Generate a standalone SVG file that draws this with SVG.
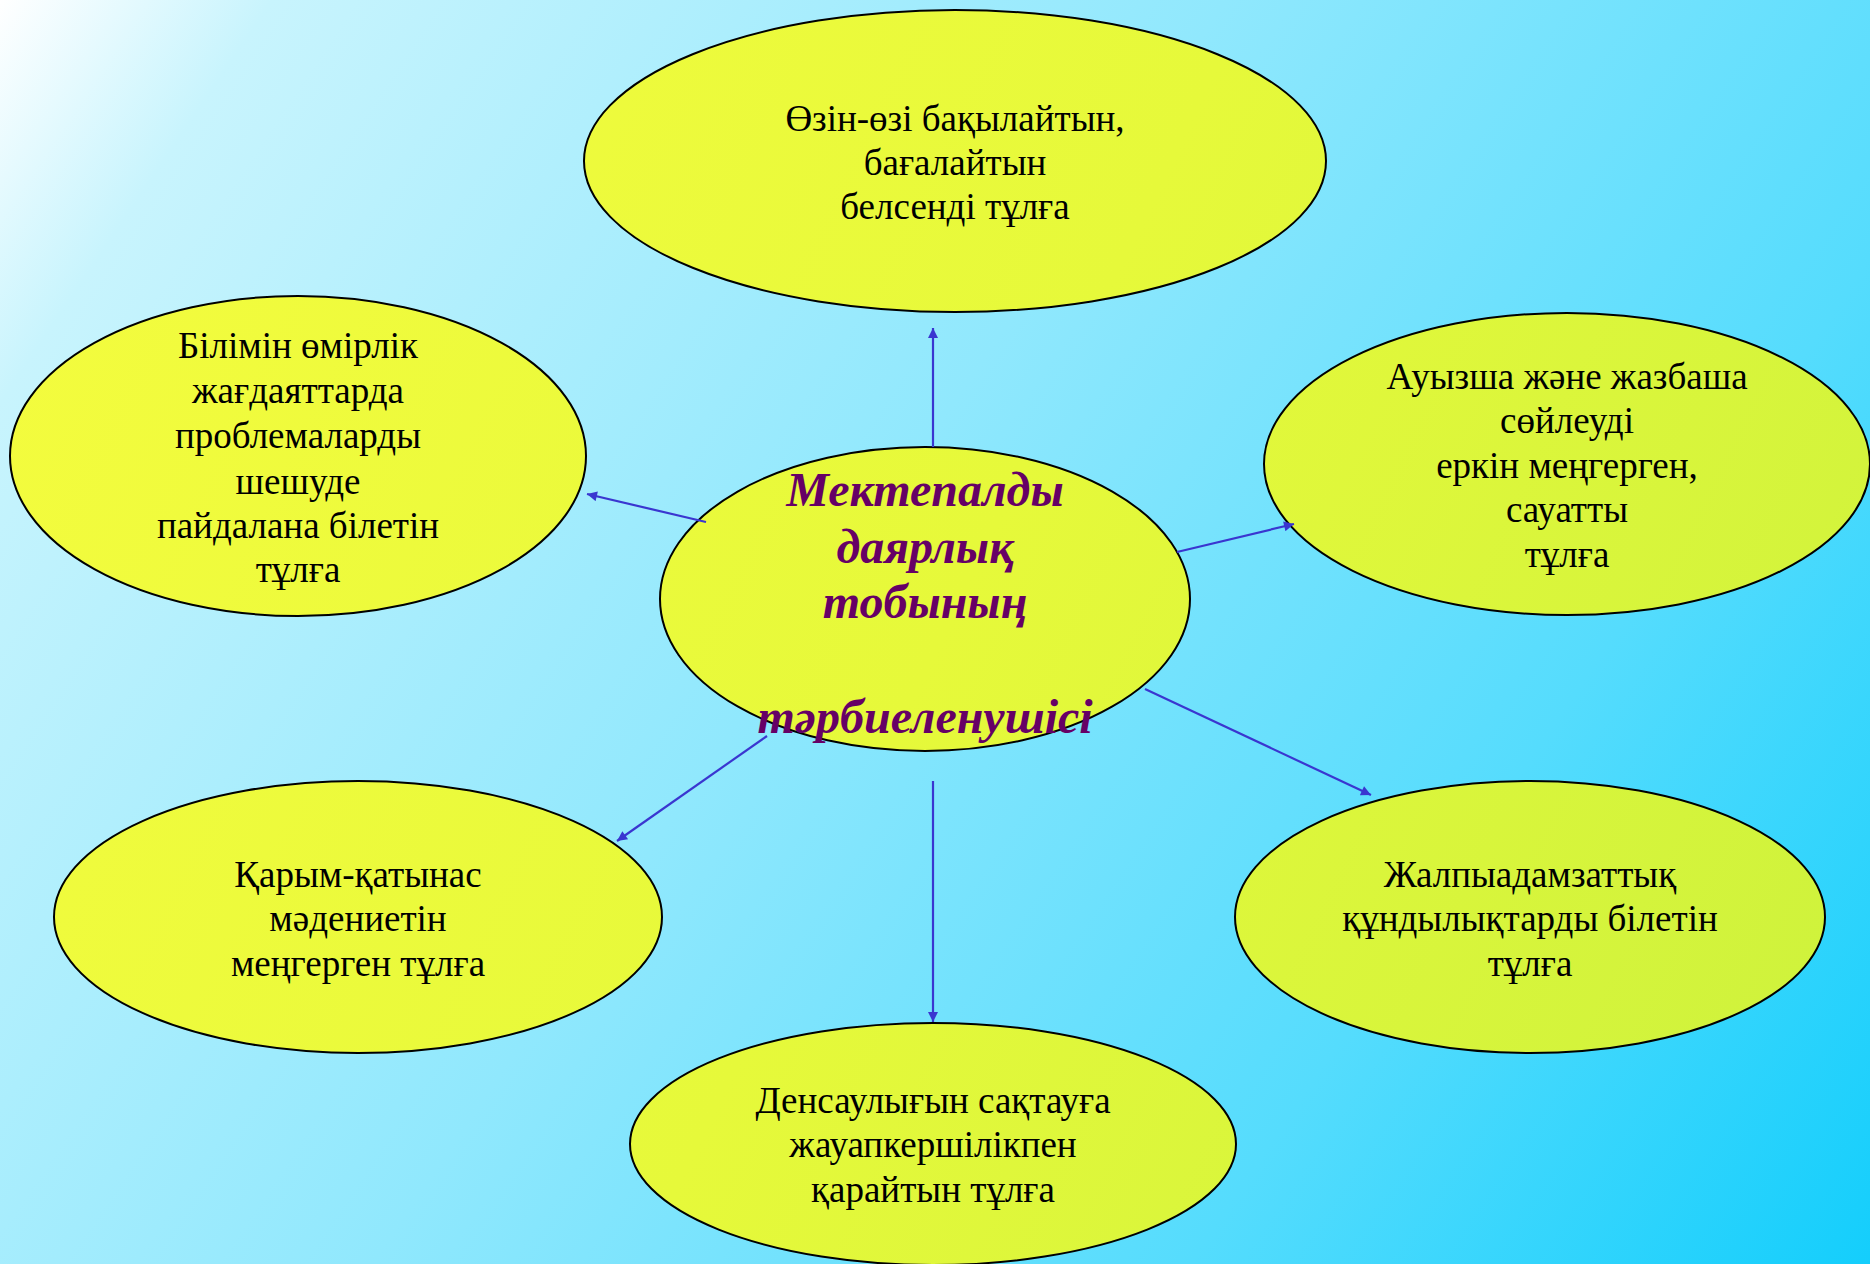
<svg xmlns="http://www.w3.org/2000/svg" width="1870" height="1264" viewBox="0 0 1870 1264">
<defs>
<linearGradient id="bg" x1="0" y1="0" x2="1870" y2="1264" gradientUnits="userSpaceOnUse">
<stop offset="0" stop-color="#ffffff"/>
<stop offset="0.1" stop-color="#c8f4fd"/>
<stop offset="0.45" stop-color="#90e8fd"/>
<stop offset="0.75" stop-color="#55dcfd"/>
<stop offset="1" stop-color="#14cefc"/>
</linearGradient>
<linearGradient id="yel" x1="0" y1="200" x2="1870" y2="1100" gradientUnits="userSpaceOnUse">
<stop offset="0" stop-color="#f4fc3e"/>
<stop offset="0.5" stop-color="#e6f93a"/>
<stop offset="1" stop-color="#cdf23c"/>
</linearGradient>
<marker id="ah" viewBox="0 0 10 10" refX="10" refY="5" markerWidth="13" markerHeight="10" markerUnits="userSpaceOnUse" orient="auto">
<path d="M0,0 L10,5 L0,10 z" fill="#3a36d0"/>
</marker>
<style>
.node ellipse{fill:url(#yel);stroke:#000;stroke-width:2}
.t{font-family:"Liberation Serif","Times New Roman",serif;font-size:37px;fill:#000;text-anchor:middle}
.c{font-family:"Liberation Serif","Times New Roman",serif;font-size:48px;font-weight:bold;font-style:italic;fill:#660066;text-anchor:middle}
.conn line{stroke:#3a36d0;stroke-width:2.2;marker-end:url(#ah)}
</style>
</defs>
<rect x="0" y="0" width="1870" height="1264" fill="url(#bg)"/>
<g id="n-top" class="node">
<ellipse cx="955" cy="161" rx="371" ry="151"/>
<text class="t" x="955" y="131">Өзін-өзі бақылайтын,</text>
<text class="t" x="955" y="175">бағалайтын</text>
<text class="t" x="955" y="219">белсенді тұлға</text>
</g>
<g id="n-left" class="node">
<ellipse cx="298" cy="456" rx="288" ry="160"/>
<text class="t" x="298" y="358">Білімін өмірлік</text>
<text class="t" x="298" y="403">жағдаяттарда</text>
<text class="t" x="298" y="448">проблемаларды</text>
<text class="t" x="298" y="494">шешуде</text>
<text class="t" x="298" y="538">пайдалана білетін</text>
<text class="t" x="298" y="582">тұлға</text>
</g>
<g id="n-right" class="node">
<ellipse cx="1567" cy="464" rx="303" ry="151"/>
<text class="t" x="1567" y="389">Ауызша және жазбаша</text>
<text class="t" x="1567" y="433">сөйлеуді</text>
<text class="t" x="1567" y="478">еркін меңгерген,</text>
<text class="t" x="1567" y="522">сауатты</text>
<text class="t" x="1567" y="567">тұлға</text>
</g>
<g id="n-bl" class="node">
<ellipse cx="358" cy="917" rx="304" ry="136"/>
<text class="t" x="358" y="887">Қарым-қатынас</text>
<text class="t" x="358" y="931">мәдениетін</text>
<text class="t" x="358" y="976">меңгерген тұлға</text>
</g>
<g id="n-br" class="node">
<ellipse cx="1530" cy="917" rx="295" ry="136"/>
<text class="t" x="1530" y="887">Жалпыадамзаттық</text>
<text class="t" x="1530" y="931">құндылықтарды білетін</text>
<text class="t" x="1530" y="976">тұлға</text>
</g>
<g id="n-bottom" class="node">
<ellipse cx="933" cy="1144" rx="303" ry="121"/>
<text class="t" x="933" y="1113">Денсаулығын сақтауға</text>
<text class="t" x="933" y="1157">жауапкершілікпен</text>
<text class="t" x="933" y="1202">қарайтын тұлға</text>
</g>
<g id="n-center" class="node">
<ellipse cx="925" cy="599" rx="265" ry="152"/>
<text class="c" x="925" y="506">Мектепалды</text>
<text class="c" x="925" y="563">даярлық</text>
<text class="c" x="925" y="618">тобының</text>
<text class="c" x="925" y="733">тәрбиеленушісі</text>
</g>
<g id="connectors" class="conn">
<line x1="933" y1="447" x2="933" y2="328"/>
<line x1="706" y1="522" x2="587" y2="494"/>
<line x1="1177" y1="552" x2="1294" y2="524"/>
<line x1="1145" y1="689" x2="1371" y2="795"/>
<line x1="767" y1="736" x2="617" y2="841"/>
<line x1="933" y1="781" x2="933" y2="1022"/>
</g>
</svg>
